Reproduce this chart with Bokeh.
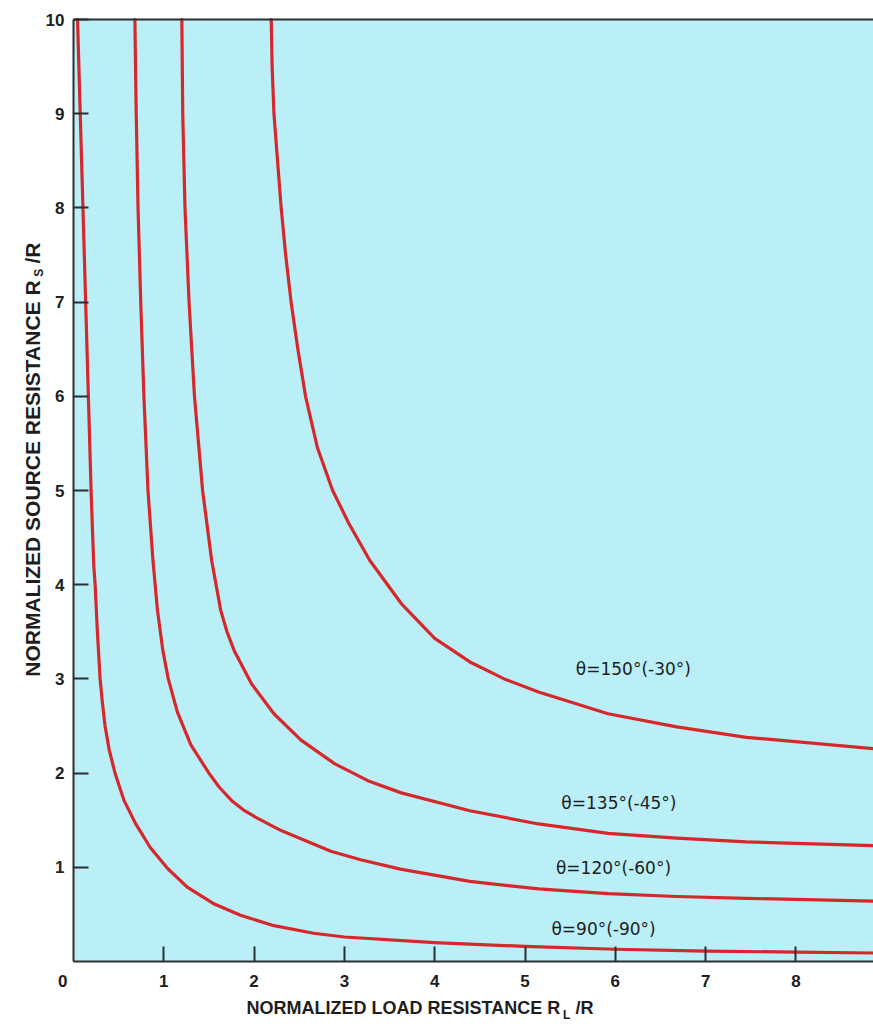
import math
from bokeh.plotting import figure
from bokeh.models import Range1d, LinearAxis, FixedTicker, Label
from bokeh.embed import file_html
from bokeh.resources import INLINE

# ---- data (normalized RL/R, RS/R) ----
rl_90 = [0.045, 0.075, 0.105, 0.135, 0.165, 0.195, 0.225, 0.24, 0.265, 0.295, 0.32, 0.35, 0.395,
         0.46, 0.56, 0.69, 0.85, 1.04, 1.26, 1.56, 1.85, 2.22, 2.66, 3.0, 4.0, 5.0, 6.0, 7.0, 8.0, 8.86]
rs_90 = [10, 9, 8, 7, 6, 5, 4.2, 4.0, 3.5, 3.0, 2.75, 2.5, 2.25,
         2.0, 1.71, 1.46, 1.21, 0.99, 0.79, 0.61, 0.49, 0.38, 0.30, 0.26, 0.20, 0.16, 0.13, 0.11, 0.10, 0.09]

rl_120 = [0.68, 0.695, 0.715, 0.745, 0.78, 0.825, 0.88, 0.93, 0.99, 1.05, 1.15, 1.30, 1.50, 1.615,
          1.76, 1.88, 2.02, 2.30, 2.85, 3.18, 3.62, 4.39, 5.15, 5.92, 6.68, 7.45, 8.86]
rs_120 = [10, 9, 8, 7, 6, 5, 4.26, 3.73, 3.30, 3.0, 2.65, 2.30, 2.0, 1.85,
          1.70, 1.61, 1.53, 1.39, 1.17, 1.08, 0.98, 0.85, 0.77, 0.72, 0.69, 0.67, 0.64]

rl_135 = [1.20, 1.21, 1.235, 1.28, 1.34, 1.43, 1.53, 1.63, 1.70, 1.78, 1.97, 2.22, 2.52, 2.89,
          3.26, 3.63, 4.39, 5.15, 5.92, 6.68, 7.45, 8.86]
rs_135 = [10, 9, 8, 7, 6, 5, 4.26, 3.73, 3.50, 3.30, 2.95, 2.63, 2.35, 2.10,
          1.92, 1.79, 1.60, 1.46, 1.36, 1.31, 1.27, 1.23]

rl_150 = [2.19, 2.20, 2.22, 2.26, 2.30, 2.35, 2.41, 2.485, 2.57, 2.70, 2.87, 3.05, 3.28, 3.63,
          4.0, 4.39, 4.77, 5.15, 5.92, 6.68, 7.45, 8.86]
rs_150 = [10, 9.5, 9, 8.5, 8, 7.5, 7, 6.5, 6, 5.46, 5.0, 4.65, 4.26, 3.80,
          3.43, 3.18, 3.0, 2.86, 2.63, 2.49, 2.38, 2.26]

curve_labels = ["θ=90°(-90°)", "θ=120°(-60°)", "θ=135°(-45°)", "θ=150°(-30°)"]
label_x = [5.87, 5.98, 6.04, 6.20]
label_y = [0.35, 0.99, 1.68, 3.11]

x_ticks = [1, 2, 3, 4, 5, 6, 7, 8]
y_ticks = [1, 2, 3, 4, 5, 6, 7, 8, 9, 10]
x_max = 8.86
y_max = 10

x_title = "NORMALIZED LOAD RESISTANCE R"
x_title_sub = "L"
y_title = "NORMALIZED SOURCE RESISTANCE R"
y_title_sub = "S"

# ---- styling ----
BG = "#baeff7"
RED = "#d6282b"
INK = "#1e1e1e"
AX = "#2a2f33"
NUM_FONT = "Liberation Sans"
TITLE_FONT = "Liberation Sans"

# the frame covers the whole canvas; the axes sit at the data origin
p = figure(width=873, height=1024, x_range=Range1d(-0.808, 8.859), y_range=Range1d(-0.669, 10.202),
           output_backend="svg", toolbar_location=None, title=None,
           x_axis_location=None, y_axis_location=None, min_border=0,
           background_fill_color="white", border_fill_color="white", outline_line_color=None)
p.grid.visible = False

# plot area
p.quad(left=[0], right=[x_max], bottom=[0], top=[y_max], fill_color=BG, line_color=None)


def style_axis(ax):
    ax.major_tick_in = 15
    ax.major_tick_out = 0
    ax.minor_tick_in = 0
    ax.minor_tick_out = 0
    ax.major_tick_line_width = 2
    ax.major_tick_line_color = AX
    ax.axis_line_width = 2
    ax.axis_line_color = AX
    ax.major_label_text_font = NUM_FONT
    ax.major_label_text_font_size = "17px"
    ax.major_label_text_font_style = "bold"
    ax.major_label_text_color = INK


xaxis = LinearAxis(ticker=FixedTicker(ticks=x_ticks), fixed_location=0, bounds=(0, x_max))
style_axis(xaxis)
xaxis.major_label_standoff = 14
p.add_layout(xaxis, "below")

yaxis = LinearAxis(ticker=FixedTicker(ticks=y_ticks), fixed_location=0, bounds=(0, y_max))
style_axis(yaxis)
yaxis.major_label_standoff = 9
p.add_layout(yaxis, "left")

top = LinearAxis(ticker=FixedTicker(ticks=[]), fixed_location=y_max, bounds=(0, x_max),
                 major_tick_in=0, major_tick_out=0, minor_tick_in=0, minor_tick_out=0,
                 major_label_text_font_size="0px", axis_line_width=2, axis_line_color=AX)
p.add_layout(top, "above")

for xs, ys in ((rl_90, rs_90), (rl_120, rs_120), (rl_135, rs_135), (rl_150, rs_150)):
    p.line(xs, ys, line_color=RED, line_width=3.2, line_join="round", line_cap="round")

for t, lx, ly in zip(curve_labels, label_x, label_y):
    p.add_layout(Label(x=lx, y=ly, text=t, text_align="center", text_baseline="middle",
                       text_font="DejaVu Sans", text_font_size="17px", text_color=INK))

# origin label
p.add_layout(Label(x=-0.12, y=-0.21, text="0", text_align="center", text_baseline="middle",
                   text_font=NUM_FONT, text_font_size="17px", text_font_style="bold",
                   text_color=INK))

# x axis title with subscript
p.add_layout(Label(x=5.39, y=-0.49, text=x_title, text_align="right", text_baseline="middle",
                   text_font=TITLE_FONT, text_font_size="18px", text_font_style="bold",
                   text_color=INK))
p.add_layout(Label(x=5.42, y=-0.57, text=x_title_sub, text_align="left", text_baseline="middle",
                   text_font=TITLE_FONT, text_font_size="12px", text_font_style="bold",
                   text_color=INK))
p.add_layout(Label(x=5.56, y=-0.49, text="/R", text_align="left", text_baseline="middle",
                   text_font=TITLE_FONT, text_font_size="18px", text_font_style="bold",
                   text_color=INK))

# y axis title with subscript (rotated)
p.add_layout(Label(x=-0.45, y=7.23, text=y_title, text_align="right", text_baseline="middle",
                   angle=math.pi / 2, text_font=TITLE_FONT, text_font_size="21px",
                   text_font_style="bold", text_color=INK))
p.add_layout(Label(x=-0.38, y=7.27, text=y_title_sub, text_align="left", text_baseline="middle",
                   angle=math.pi / 2, text_font=TITLE_FONT, text_font_size="12px",
                   text_font_style="bold", text_color=INK))
p.add_layout(Label(x=-0.45, y=7.41, text="/R", text_align="left", text_baseline="middle",
                   angle=math.pi / 2, text_font=TITLE_FONT, text_font_size="21px",
                   text_font_style="bold", text_color=INK))

open("out.html", "w").write(file_html(p, INLINE))
